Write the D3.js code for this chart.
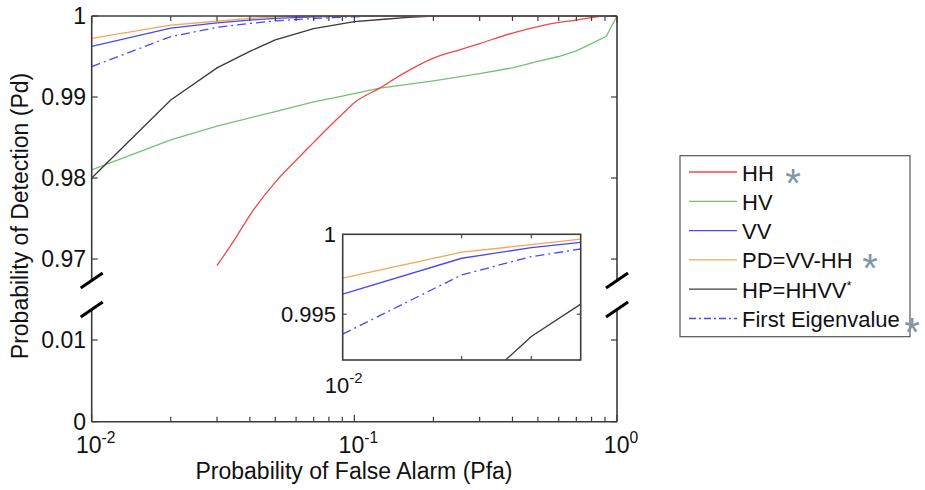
<!DOCTYPE html>
<html><head><meta charset="utf-8">
<script src="https://cdn.jsdelivr.net/npm/d3@7"></script>
<style>
html,body{margin:0;padding:0;background:#fff;}
svg text{font-family:"Liberation Sans",Arial,sans-serif;fill:#111;}
</style></head>
<body><svg id="c" width="925" height="490"></svg>
<script>
// ---- data ----
const seriesNames = ["HH", "HV", "VV", "PD=VV-HH", "HP=HHVV*", "First Eigenvalue"];
const hhPfa = [0.03, 0.035, 0.04, 0.05, 0.06, 0.07, 0.08, 0.09, 0.1, 0.125, 0.15, 0.2, 0.25, 0.3, 0.4, 0.5, 0.6, 0.7, 0.8, 0.9, 1.0];
const hhPd  = [0.9692, 0.9724, 0.9754, 0.9795, 0.9822, 0.9844, 0.9863, 0.9879, 0.9893, 0.9911, 0.9927, 0.9948, 0.9958, 0.9966, 0.9979, 0.9987, 0.9992, 0.9995, 0.9998, 1.0, 1.0];
const hvPfa = [0.01, 0.02, 0.03, 0.05, 0.07, 0.09, 0.125, 0.2, 0.3, 0.4, 0.5, 0.6, 0.7, 0.8, 0.91, 1.0];
const hvPd  = [0.9810, 0.9847, 0.9864, 0.9882, 0.9894, 0.9901, 0.9911, 0.9920, 0.9929, 0.9936, 0.9944, 0.9950, 0.9957, 0.9966, 0.9975, 1.0];
const vvPfa = [0.01, 0.02, 0.03, 0.04, 0.05, 0.07, 0.1, 1.0];
const vvPd  = [0.99625, 0.9985, 0.99916, 0.9995, 0.9997, 0.9999, 1.0, 1.0];
const pdPfa = [0.01, 0.02, 0.03, 0.04, 0.05, 0.06, 1.0];
const pdPd  = [0.99725, 0.99888, 0.99935, 0.9997, 0.9999, 1.0, 1.0];
const hpPfa = [0.01, 0.02, 0.03, 0.04, 0.05, 0.07, 0.1, 0.13, 0.16, 0.2, 1.0];
const hpPd  = [0.9800, 0.98963, 0.9936, 0.99563, 0.99704, 0.99845, 0.9993, 0.9996, 0.99984, 1.0, 1.0];
const evPfa = [0.01, 0.02, 0.03, 0.04, 0.05, 0.07, 0.1, 0.12, 1.0];
const evPd  = [0.99375, 0.99746, 0.9986, 0.99908, 0.9994, 0.9997, 0.9999, 1.0, 1.0];
const upperTicks = [0.97, 0.98, 0.99, 1];
const upperTickLabels = ["0.97", "0.98", "0.99", "1"];
const lowerTicks = [0, 0.01];
const lowerTickLabels = ["0", "0.01"];
const xMajor = [0.01, 0.1, 1];
const xMajorExp = ["-2", "-1", "0"];
const insetYTicks = [0.995, 1];
const insetYLabels = ["0.995", "1"];
const starred = [0, 3, 5];

// ---- styles ----
const colors = ["#f04848", "#72c272", "#4848f8", "#f5a55a", "#3a3a3a", "#4848f8"];
const dashes = [null, null, null, null, null, "9,4,2,4"];
const axisCol = "#3c3c3c";

const svg = d3.select("#c");
const L = 91.7, R = 617, T = 16, B = 421.7;
const x = d3.scaleLog().domain([0.01, 1]).range([L, R]);
const yU = d3.scaleLinear().domain([0.96735, 1]).range([280.5, T]);
const yL = d3.scaleLinear().domain([0, 0.01373]).range([B, 309.5]);

const series = [
  {px: hhPfa, pd: hhPd}, {px: hvPfa, pd: hvPd}, {px: vvPfa, pd: vvPd},
  {px: pdPfa, pd: pdPd}, {px: hpPfa, pd: hpPd}, {px: evPfa, pd: evPd}
].map((s, i) => ({name: seriesNames[i], pts: s.px.map((v, j) => [v, s.pd[j]]), color: colors[i], dash: dashes[i]}));

const defs = svg.append("defs");
defs.append("clipPath").attr("id", "clipU").append("rect").attr("x", L).attr("y", T - 2).attr("width", R - L + 2).attr("height", 280.5 - T + 2);

const lineU = d3.line().curve(d3.curveMonotoneX).x(d => x(d[0])).y(d => yU(d[1]));
const lineUlin = d3.line().x(d => x(d[0])).y(d => yU(d[1]));
const drawOrder = [1, 0, 4, 5, 2, 3];
const gl = svg.append("g").attr("clip-path", "url(#clipU)");
drawOrder.forEach(i => {
  const s = series[i];
  gl.append("path").attr("d", (i === 0 ? lineU : lineUlin)(s.pts)).attr("fill", "none")
    .attr("stroke", s.color).attr("stroke-width", 1.3)
    .attr("stroke-dasharray", s.dash);
});

// frame
const fr = svg.append("g").attr("stroke", axisCol).attr("stroke-width", 1.6).attr("fill", "none");
fr.append("line").attr("x1", L).attr("x2", R).attr("y1", T).attr("y2", T);
fr.append("line").attr("x1", L).attr("x2", R).attr("y1", B).attr("y2", B);
[L, R].forEach(xx => {
  fr.append("line").attr("x1", xx).attr("x2", xx).attr("y1", T).attr("y2", 280.5);
  fr.append("line").attr("x1", xx).attr("x2", xx).attr("y1", 309.5).attr("y2", B);
});

// x ticks
const minor = [];
[0.01, 0.1].forEach(d => { for (let k = 2; k <= 9; k++) minor.push(d * k); });
const tk = svg.append("g").attr("stroke", axisCol).attr("stroke-width", 1.2);
minor.forEach(v => {
  tk.append("line").attr("x1", x(v)).attr("x2", x(v)).attr("y1", B).attr("y2", B - 5);
  tk.append("line").attr("x1", x(v)).attr("x2", x(v)).attr("y1", T).attr("y2", T + 5);
});
xMajor.forEach(v => {
  tk.append("line").attr("x1", x(v)).attr("x2", x(v)).attr("y1", B).attr("y2", B - 7);
  tk.append("line").attr("x1", x(v)).attr("x2", x(v)).attr("y1", T).attr("y2", T + 7);
});
upperTicks.forEach(v => {
  tk.append("line").attr("x1", L).attr("x2", L + 6).attr("y1", yU(v)).attr("y2", yU(v));
  tk.append("line").attr("x1", R).attr("x2", R - 6).attr("y1", yU(v)).attr("y2", yU(v));
});
lowerTicks.forEach(v => {
  tk.append("line").attr("x1", L).attr("x2", L + 6).attr("y1", yL(v)).attr("y2", yL(v));
  tk.append("line").attr("x1", R).attr("x2", R - 6).attr("y1", yL(v)).attr("y2", yL(v));
});

const fs = 23;
upperTicks.forEach((v, i) => {
  svg.append("text").attr("x", 86).attr("y", yU(v) + 8).attr("text-anchor", "end")
    .attr("font-size", fs).text(upperTickLabels[i]);
});
lowerTicks.forEach((v, i) => {
  svg.append("text").attr("x", 86).attr("y", yL(v) + 8).attr("text-anchor", "end")
    .attr("font-size", fs).text(lowerTickLabels[i]);
});
function powLabel(g, cx, by, exp, size) {
  const t = g.append("text").attr("y", by).attr("font-size", size).attr("text-anchor", "middle").attr("x", cx);
  t.append("tspan").text("10");
  t.append("tspan").attr("dy", -size * 0.45).attr("font-size", size * 0.68).text(exp);
}
xMajor.forEach((v, i) => powLabel(svg, x(v) + 4, 453, xMajorExp[i], fs));

// break marks
const bk = svg.append("g").attr("stroke", "#000").attr("stroke-width", 3);
[L, R].forEach(xx => {
  bk.append("line").attr("x1", xx - 11).attr("y1", 288).attr("x2", xx + 11).attr("y2", 273);
  bk.append("line").attr("x1", xx - 11).attr("y1", 317).attr("x2", xx + 11).attr("y2", 302);
});

svg.append("text").attr("x", 354).attr("y", 479).attr("text-anchor", "middle").attr("font-size", fs)
  .text("Probability of False Alarm (Pfa)");
svg.append("text").attr("transform", "translate(28,216) rotate(-90)").attr("text-anchor", "middle")
  .attr("font-size", fs).text("Probability of Detection (Pd)");

// ---- inset ----
const iL = 342.7, iR = 580.7, iT = 234.3, iB = 360;
const xi = d3.scaleLog().domain([0.01, 0.04]).range([iL, iR]);
const yi = d3.scaleLinear().domain([0.99213, 1]).range([iB, iT]);
defs.append("clipPath").attr("id", "clipI").append("rect").attr("x", iL).attr("y", iT).attr("width", iR - iL).attr("height", iB - iT);
svg.append("rect").attr("x", iL).attr("y", iT).attr("width", iR - iL).attr("height", iB - iT).attr("fill", "#fff");
const lineI = d3.line().x(d => xi(d[0])).y(d => yi(d[1]));
const gi = svg.append("g").attr("clip-path", "url(#clipI)");
drawOrder.forEach(i => {
  const s = series[i];
  gi.append("path").attr("d", lineI(s.pts)).attr("fill", "none")
    .attr("stroke", s.color).attr("stroke-width", 1.3).attr("stroke-dasharray", s.dash);
});
svg.append("rect").attr("x", iL).attr("y", iT).attr("width", iR - iL).attr("height", iB - iT)
  .attr("fill", "none").attr("stroke", axisCol).attr("stroke-width", 1.6);
const ti = svg.append("g").attr("stroke", axisCol).attr("stroke-width", 1.1);
[0.02, 0.03].forEach(v => {
  ti.append("line").attr("x1", xi(v)).attr("x2", xi(v)).attr("y1", iB).attr("y2", iB - 4);
  ti.append("line").attr("x1", xi(v)).attr("x2", xi(v)).attr("y1", iT).attr("y2", iT + 4);
});
[0.995].forEach(v => {
  ti.append("line").attr("x1", iL).attr("x2", iL + 4).attr("y1", yi(v)).attr("y2", yi(v));
  ti.append("line").attr("x1", iR).attr("x2", iR - 4).attr("y1", yi(v)).attr("y2", yi(v));
});
insetYTicks.forEach((v, i) => {
  svg.append("text").attr("x", 336).attr("y", yi(v) + 8).attr("text-anchor", "end")
    .attr("font-size", 22).text(insetYLabels[i]);
});
powLabel(svg, iL + 1, 393, "-2", 22);

// ---- legend ----
const lgX = 680, lgY = 155.7, lgW = 230, lgH = 181;
svg.append("rect").attr("x", lgX).attr("y", lgY).attr("width", lgW).attr("height", lgH)
  .attr("fill", "#fff").attr("stroke", "#555").attr("stroke-width", 1.2);
series.forEach((s, i) => {
  const ly = 172 + i * 29.3;
  svg.append("line").attr("x1", 689).attr("x2", 737).attr("y1", ly).attr("y2", ly)
    .attr("stroke", s.color).attr("stroke-width", 1.3).attr("stroke-dasharray", s.dash ? "7,3,2,3" : null);
  const t = svg.append("text").attr("x", 742).attr("y", ly + 8.5).attr("font-size", 22);
  if (s.name.endsWith("*")) {
    t.append("tspan").text(s.name.slice(0, -1));
    t.append("tspan").attr("dy", -8).attr("font-size", 13).text("*");
  } else {
    t.text(s.name);
  }
});
const starPos = {0: [793, 197], 3: [870, 282], 5: [912, 346]};
starred.forEach(i => {
  svg.append("text").attr("x", starPos[i][0]).attr("y", starPos[i][1]).attr("text-anchor", "middle")
    .attr("font-size", 40).style("fill", "#7f97a8").text("*");
});
</script></body></html>
